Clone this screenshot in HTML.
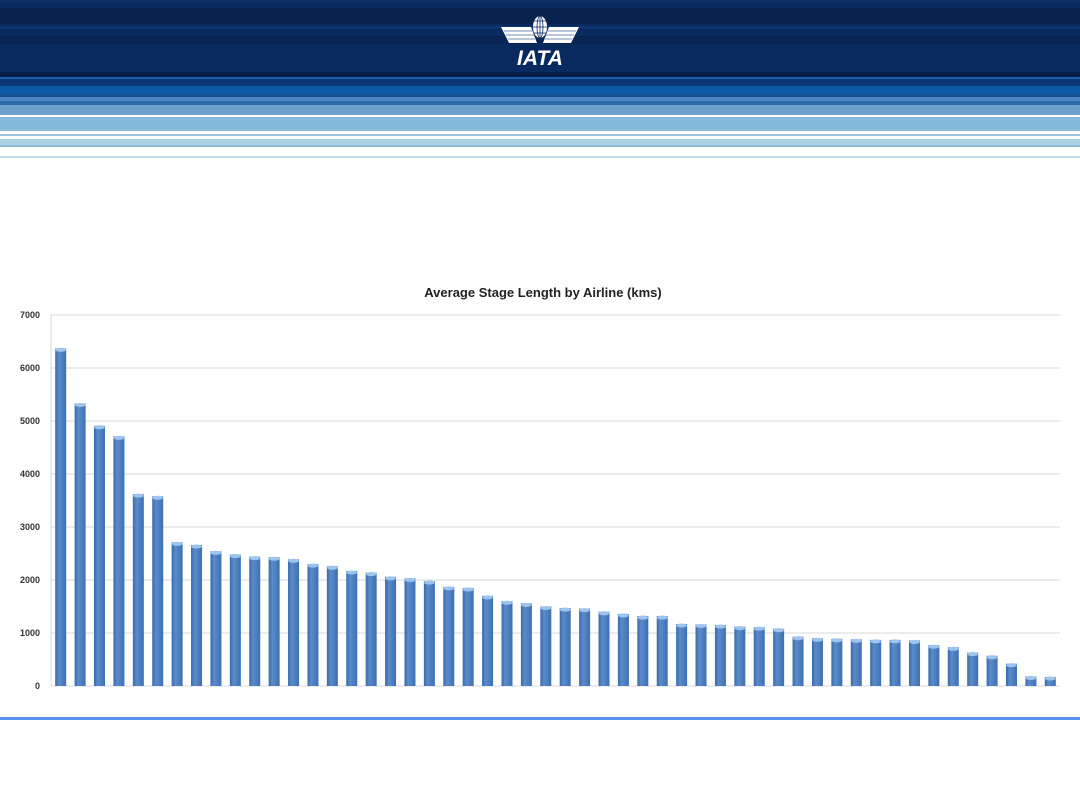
<!DOCTYPE html>
<html><head><meta charset="utf-8"><style>
html,body{margin:0;padding:0;background:#fff;}
body{width:1080px;height:810px;position:relative;overflow:hidden;font-family:"Liberation Sans",sans-serif;}
.b{position:absolute;left:0;width:1080px;}
</style></head><body>
<div>
<div class="b" style="top:0;height:72px;background:#092a5e"></div>
<div class="b" style="top:0;height:3px;background:#0e2f66"></div>
<div class="b" style="top:8px;height:16px;background:#06214b"></div>
<div class="b" style="top:26px;height:3px;background:#0e3572"></div>
<div class="b" style="top:36px;height:8px;background:#082452"></div>
<div class="b" style="top:72px;height:5px;background:#061e47"></div>
<div class="b" style="top:77px;height:2px;background:#1c5ea8"></div>
<div class="b" style="top:79px;height:7px;background:#0b3775"></div>
<div class="b" style="top:86px;height:8px;background:#0a5aa8"></div>
<div class="b" style="top:94px;height:3px;background:#1a4f90"></div>
<div class="b" style="top:97px;height:4px;background:#4a86c0"></div>
<div class="b" style="top:101px;height:4px;background:#2c6aa8"></div>
<div class="b" style="top:105px;height:10px;background:#6d9fcb"></div>
<div class="b" style="top:117px;height:14px;background:#84b9da"></div>
<div class="b" style="top:134px;height:2px;background:#9cc4dc"></div>
<div class="b" style="top:139px;height:6px;background:#a9d2e3"></div>
<div class="b" style="top:145px;height:2px;background:#8fb8d4"></div>
<div class="b" style="top:156px;height:2px;background:#c3dde8"></div>
</div>
<svg style="position:absolute;left:498px;top:8px" width="84" height="60" viewBox="0 0 84 60">
<ellipse cx="42" cy="19" rx="7" ry="11" fill="#fff"/>
<path d="M42 8v22M35 19h14M36 13h12M36 25h12" stroke="#092a5e" stroke-width="0.8"/>
<ellipse cx="42" cy="19" rx="3" ry="11" fill="none" stroke="#092a5e" stroke-width="0.8"/>
<path d="M3 19h30l6 16h-28zM81 19h-30l-6 16h28z" fill="#fff"/>
<path d="M6 23h28M8 27h28M10 31h28M78 23h-28M76 27h-28M74 31h-28" stroke="#8fa3c4" stroke-width="1.2"/>
<text x="42" y="57" text-anchor="middle" font-family="Liberation Sans" font-weight="bold" font-style="italic" font-size="21" fill="#fff">IATA</text>
</svg>
<svg id="chart" style="position:absolute;left:0;top:0" width="1080" height="810"></svg>
<div class="b" style="top:717px;height:3px;background:#5b93f0"></div>
<script>
const categories = Array.from({length:52},(_,i)=>'Airline '+(i+1));
const values = [6370,5330,4910,4710,3620,3580,2710,2660,2540,2480,2440,2430,2390,2300,2260,2170,2140,2060,2030,1980,1870,1850,1700,1600,1560,1500,1470,1460,1400,1360,1320,1320,1170,1160,1150,1120,1110,1080,930,900,890,880,870,870,860,770,730,630,570,420,180,170];
const yTicks = [0,1000,2000,3000,4000,5000,6000,7000];
const title = 'Average Stage Length by Airline (kms)';
const NS='http://www.w3.org/2000/svg';
const svg=document.getElementById('chart');
const L=51,R=1060,T=315,B=686,yMax=7000;
const y=v=>B-(v/yMax)*(B-T);
const bw=(R-L)/categories.length;
const x=i=>L+bw*i+bw/2;
function mk(t,a){const e=document.createElementNS(NS,t);for(const k in a)e.setAttribute(k,a[k]);svg.appendChild(e);return e;}
const defs=mk('defs',{});
defs.innerHTML='<linearGradient id="g" x1="0" x2="1"><stop offset="0" stop-color="#3a6aa8"/><stop offset="0.35" stop-color="#5a8ccc"/><stop offset="1" stop-color="#3e6fb0"/></linearGradient>';
yTicks.forEach(t=>{
 const g=mk('line',{x1:L,x2:R,y1:y(t),y2:y(t),stroke:'#d9d9d9','stroke-width':1});
 
 
 const tx=mk('text',{x:40,y:y(t)+3,'text-anchor':'end','font-size':9,'font-weight':'bold',fill:'#333','font-family':'Liberation Sans'});
 tx.textContent=t;
 
 
});
const ax=mk('line',{x1:L,x2:L,y1:T,y2:B,stroke:'#d9d9d9'});


values.forEach((v,i)=>{
 const w=11;
 const r=mk('rect',{x:x(i)-w/2,y:y(v),width:w,height:B-y(v),fill:'url(#g)'});
 
 
 const c=mk('ellipse',{cx:x(i),cy:y(v)+1.5,rx:w/2,ry:2,fill:'#9cc4ee'});
 
 
});
const tt=mk('text',{x:543,y:297,'text-anchor':'middle','font-size':13,'font-weight':'bold',fill:'#222','font-family':'Liberation Sans'});
tt.textContent=title;


</script>
</body></html>
